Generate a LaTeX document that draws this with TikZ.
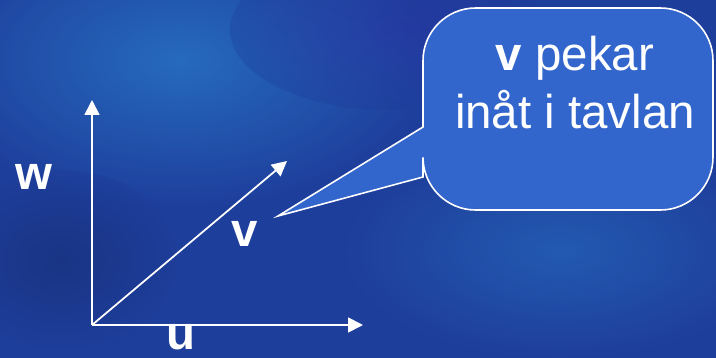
\documentclass[tikz,border=0pt]{standalone}
\usepackage{fontspec}
\setmainfont{Liberation Sans}
\usetikzlibrary{arrows.meta}
\definecolor{bgdark}{RGB}{30,62,155}
\definecolor{bglight}{RGB}{40,118,198}
\definecolor{bgpurple}{RGB}{48,46,168}
\definecolor{bubble}{RGB}{51,102,204}
\tikzset{
  vec/.style={white, line width=1pt, -{Triangle[length=8.5pt,width=8.5pt]}},
  lbl/.style={white, font=\fontsize{27}{33}\selectfont\bfseries},
  callout/.style={draw=white, fill=bubble, line width=0.9pt}
}
\begin{document}
\begin{tikzpicture}[x=0.02cm, y=-0.02cm]
    % Background
    \useasboundingbox (0,0) rectangle (716,358);
    \fill[bgdark] (0,0) rectangle (716,358);
    \shade[inner color=bglight, outer color=bgdark, opacity=0.8] (180,60) ellipse [x radius=260, y radius=150];
    \shade[inner color=bgpurple, outer color=bgdark, opacity=0.35] (390,30) ellipse [x radius=160, y radius=80];
    \shade[inner color=bglight, outer color=bgdark, opacity=0.5] (560,250) ellipse [x radius=220, y radius=110];
    \shade[inner color=bgdark!70!black, outer color=bgdark, opacity=0.5] (60,260) ellipse [x radius=120, y radius=90];
    
    % Axes
    \coordinate (O) at (92,325);
    \coordinate (W) at (92,100);
    \coordinate (U) at (363,325);
    \coordinate (V) at (287,161);
    \draw[vec] (O) -- (W);
    \draw[vec] (O) -- (U);
    \draw[vec] (O) -- (V);
    
    % Labels
    \node[lbl] (wlbl) at (34,177) {w};
    \node[lbl] (vlbl) at (245,234) {v};
    \node[lbl] (ulbl) at (181,337) {u};
    
    % Callout
    \coordinate (tip) at (278,216);
    \draw[callout] (tip) -- (423,177) [rounded corners=30] -- (423,210) -- (713,210) -- (713,8) -- (423,8) [sharp corners] -- (423,127) -- cycle;
    \node[white, align=center, font=\fontsize{27}{33}\selectfont] (note) at (575,83)
      {\textbf{v} pekar\\inåt i tavlan};
\end{tikzpicture}
\end{document}
